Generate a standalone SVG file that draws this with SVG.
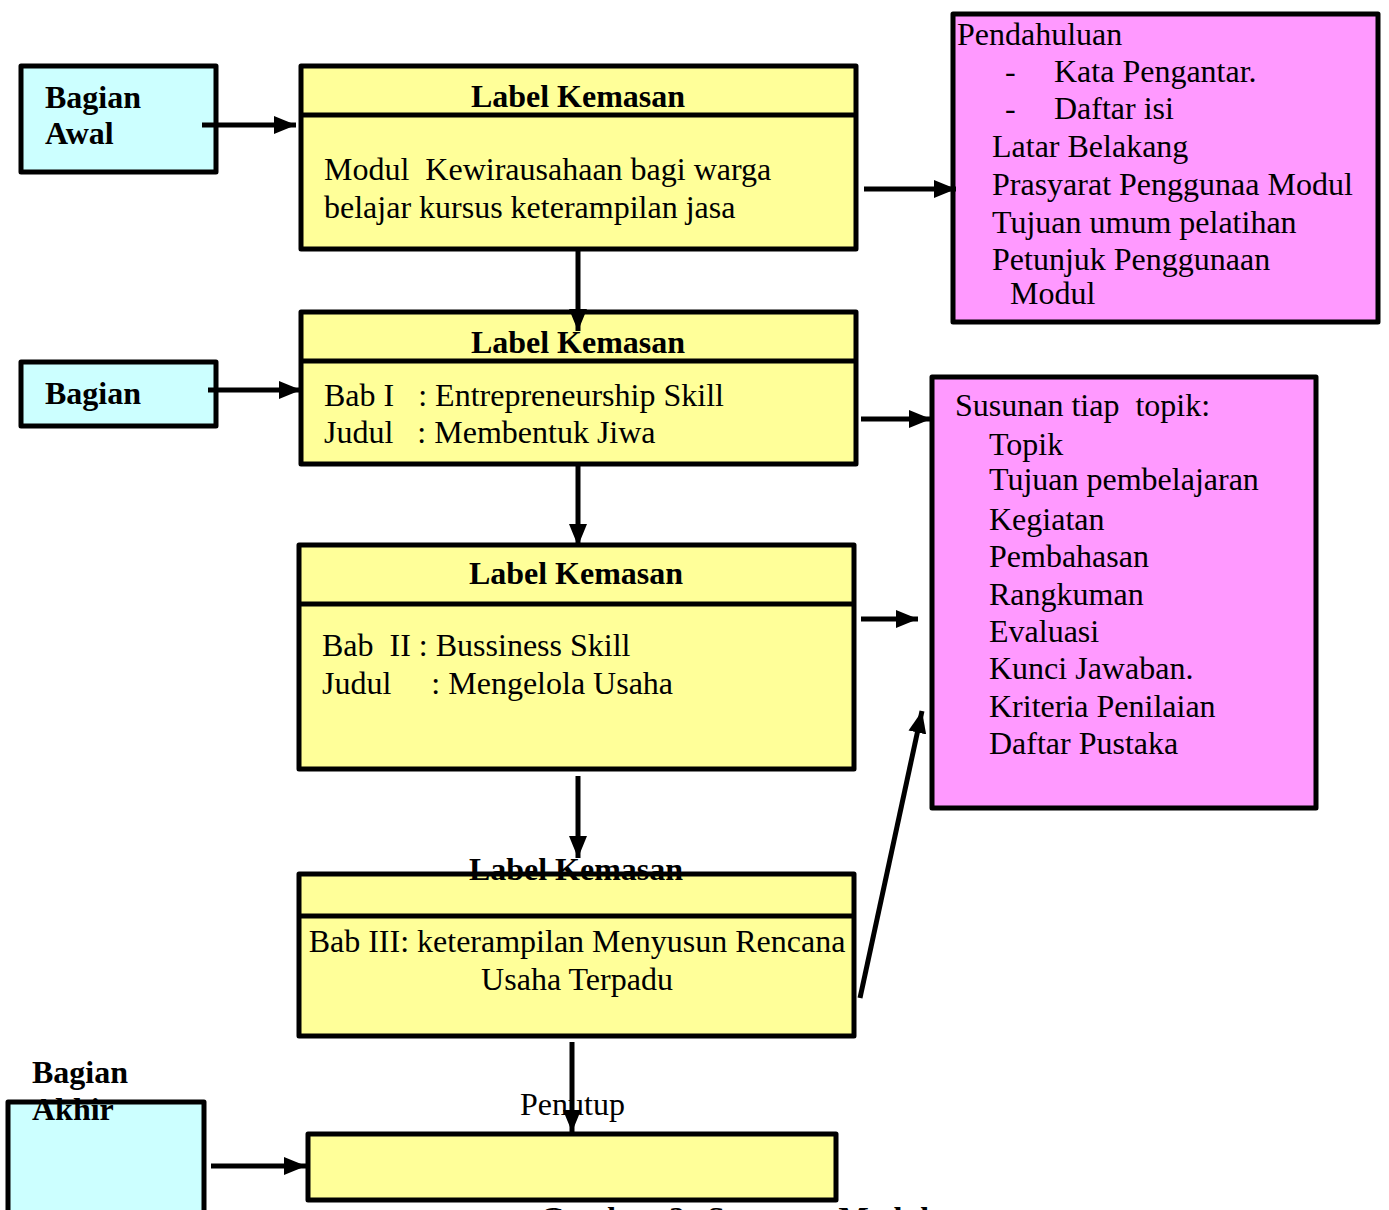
<svg xmlns="http://www.w3.org/2000/svg" width="1389" height="1210" viewBox="0 0 1389 1210">
  <style>
    .box { stroke: #000; stroke-width: 5; stroke-linejoin: round; }
    .cyan { fill: #CCFFFF; }
    .yellow { fill: #FFFF99; }
    .pink { fill: #FF99FF; }
    .div { stroke: #000; stroke-width: 5; }
    .t { font-family: "Liberation Serif", "Times New Roman", serif; font-size: 32px; fill: #000; }
    .b { font-weight: bold; }
    .c { text-anchor: middle; }
    .conn { stroke: #000; stroke-width: 5; fill: none; }
  </style>
  <defs>
    <marker id="head" markerUnits="userSpaceOnUse" markerWidth="24" markerHeight="20" refX="22" refY="10" orient="auto">
      <path d="M0,1 L22,10 L0,19 Z" fill="#000"/>
    </marker>
  </defs>

  <!-- left-hand section labels -->
  <g id="bagian-awal">
    <rect class="box cyan" x="21" y="66" width="195" height="106"/>
    <text class="t b" x="45" y="108">Bagian</text>
    <text class="t b" x="45" y="144">Awal</text>
  </g>
  <g id="bagian-isi">
    <rect class="box cyan" x="21" y="362" width="195" height="64"/>
    <text class="t b" x="45" y="404">Bagian</text>
  </g>
  <g id="bagian-akhir">
    <rect class="box cyan" x="8" y="1102" width="196" height="130"/>
    <text class="t b" x="32" y="1083">Bagian</text>
    <text class="t b" x="32" y="1120">Akhir</text>
  </g>

  <!-- package label boxes -->
  <g id="label-1">
    <rect class="box yellow" x="301" y="66" width="555" height="183"/>
    <line class="div" x1="301" y1="115" x2="856" y2="115"/>
    <text class="t b c" x="578" y="107">Label Kemasan</text>
    <text class="t" x="324" y="180" xml:space="preserve">Modul  Kewirausahaan bagi warga</text>
    <text class="t" x="324" y="218">belajar kursus keterampilan jasa</text>
  </g>
  <g id="label-2">
    <rect class="box yellow" x="301" y="312" width="555" height="152"/>
    <line class="div" x1="301" y1="361" x2="856" y2="361"/>
    <text class="t b c" x="578" y="353">Label Kemasan</text>
    <text class="t" x="324" y="406" xml:space="preserve">Bab I   : Entrepreneurship Skill</text>
    <text class="t" x="324" y="443" xml:space="preserve">Judul   : Membentuk Jiwa</text>
  </g>
  <g id="label-3">
    <rect class="box yellow" x="299" y="545" width="555" height="224"/>
    <line class="div" x1="299" y1="604" x2="854" y2="604"/>
    <text class="t b c" x="576" y="584">Label Kemasan</text>
    <text class="t" x="322" y="656" xml:space="preserve">Bab  II : Bussiness Skill</text>
    <text class="t" x="322" y="694" xml:space="preserve">Judul     : Mengelola Usaha</text>
  </g>
  <g id="label-4">
    <rect class="box yellow" x="299" y="874" width="555" height="162"/>
    <line class="div" x1="299" y1="916" x2="854" y2="916"/>
    <text class="t b c" x="576" y="880">Label Kemasan</text>
    <text class="t c" x="577" y="952">Bab III: keterampilan Menyusun Rencana</text>
    <text class="t c" x="577" y="990">Usaha Terpadu</text>
  </g>
  <g id="penutup">
    <rect class="box yellow" x="308" y="1134" width="528" height="66"/>
    <text class="t" x="520" y="1115">Penutup</text>
  </g>

  <!-- content lists -->
  <g id="pendahuluan">
    <rect class="box pink" x="953" y="14" width="425" height="308"/>
    <text class="t" x="957" y="45">Pendahuluan</text>
    <text class="t" x="1005" y="82">-</text>
    <text class="t" x="1054" y="82">Kata Pengantar.</text>
    <text class="t" x="1005" y="119">-</text>
    <text class="t" x="1054" y="119">Daftar isi</text>
    <text class="t" x="992" y="157">Latar Belakang</text>
    <text class="t" x="992" y="195">Prasyarat Penggunaa Modul</text>
    <text class="t" x="992" y="233">Tujuan umum pelatihan</text>
    <text class="t" x="992" y="270">Petunjuk Penggunaan</text>
    <text class="t" x="1010" y="304">Modul</text>
  </g>
  <g id="susunan-topik">
    <rect class="box pink" x="932" y="377" width="384" height="431"/>
    <text class="t" x="955" y="416" xml:space="preserve">Susunan tiap  topik:</text>
    <text class="t" x="989" y="455">Topik</text>
    <text class="t" x="989" y="490">Tujuan pembelajaran</text>
    <text class="t" x="989" y="530">Kegiatan</text>
    <text class="t" x="989" y="567">Pembahasan</text>
    <text class="t" x="989" y="605">Rangkuman</text>
    <text class="t" x="989" y="642">Evaluasi</text>
    <text class="t" x="989" y="679">Kunci Jawaban.</text>
    <text class="t" x="989" y="717">Kriteria Penilaian</text>
    <text class="t" x="989" y="754">Daftar Pustaka</text>
  </g>

  <!-- connectors -->
  <g id="connectors">
    <line class="conn" x1="202" y1="125" x2="296" y2="125" marker-end="url(#head)"/>
    <line class="conn" x1="864" y1="189" x2="956" y2="189" marker-end="url(#head)"/>
    <line class="conn" x1="578" y1="249" x2="578" y2="331" marker-end="url(#head)"/>
    <line class="conn" x1="208" y1="390" x2="301" y2="390" marker-end="url(#head)"/>
    <line class="conn" x1="861" y1="419" x2="931" y2="419" marker-end="url(#head)"/>
    <line class="conn" x1="578" y1="464" x2="578" y2="546" marker-end="url(#head)"/>
    <line class="conn" x1="861" y1="619" x2="918" y2="619" marker-end="url(#head)"/>
    <line class="conn" x1="578" y1="776" x2="578" y2="858" marker-end="url(#head)"/>
    <line class="conn" x1="860" y1="998" x2="922" y2="711" marker-end="url(#head)"/>
    <line class="conn" x1="572" y1="1042" x2="572" y2="1132" marker-end="url(#head)"/>
    <line class="conn" x1="211" y1="1166" x2="306" y2="1166" marker-end="url(#head)"/>
  </g>

  <!-- figure caption, running off the lower edge -->
  <text class="t b" x="540" y="1229" font-size="30" word-spacing="6">Gambar 2. Susunan Modul</text>
</svg>
